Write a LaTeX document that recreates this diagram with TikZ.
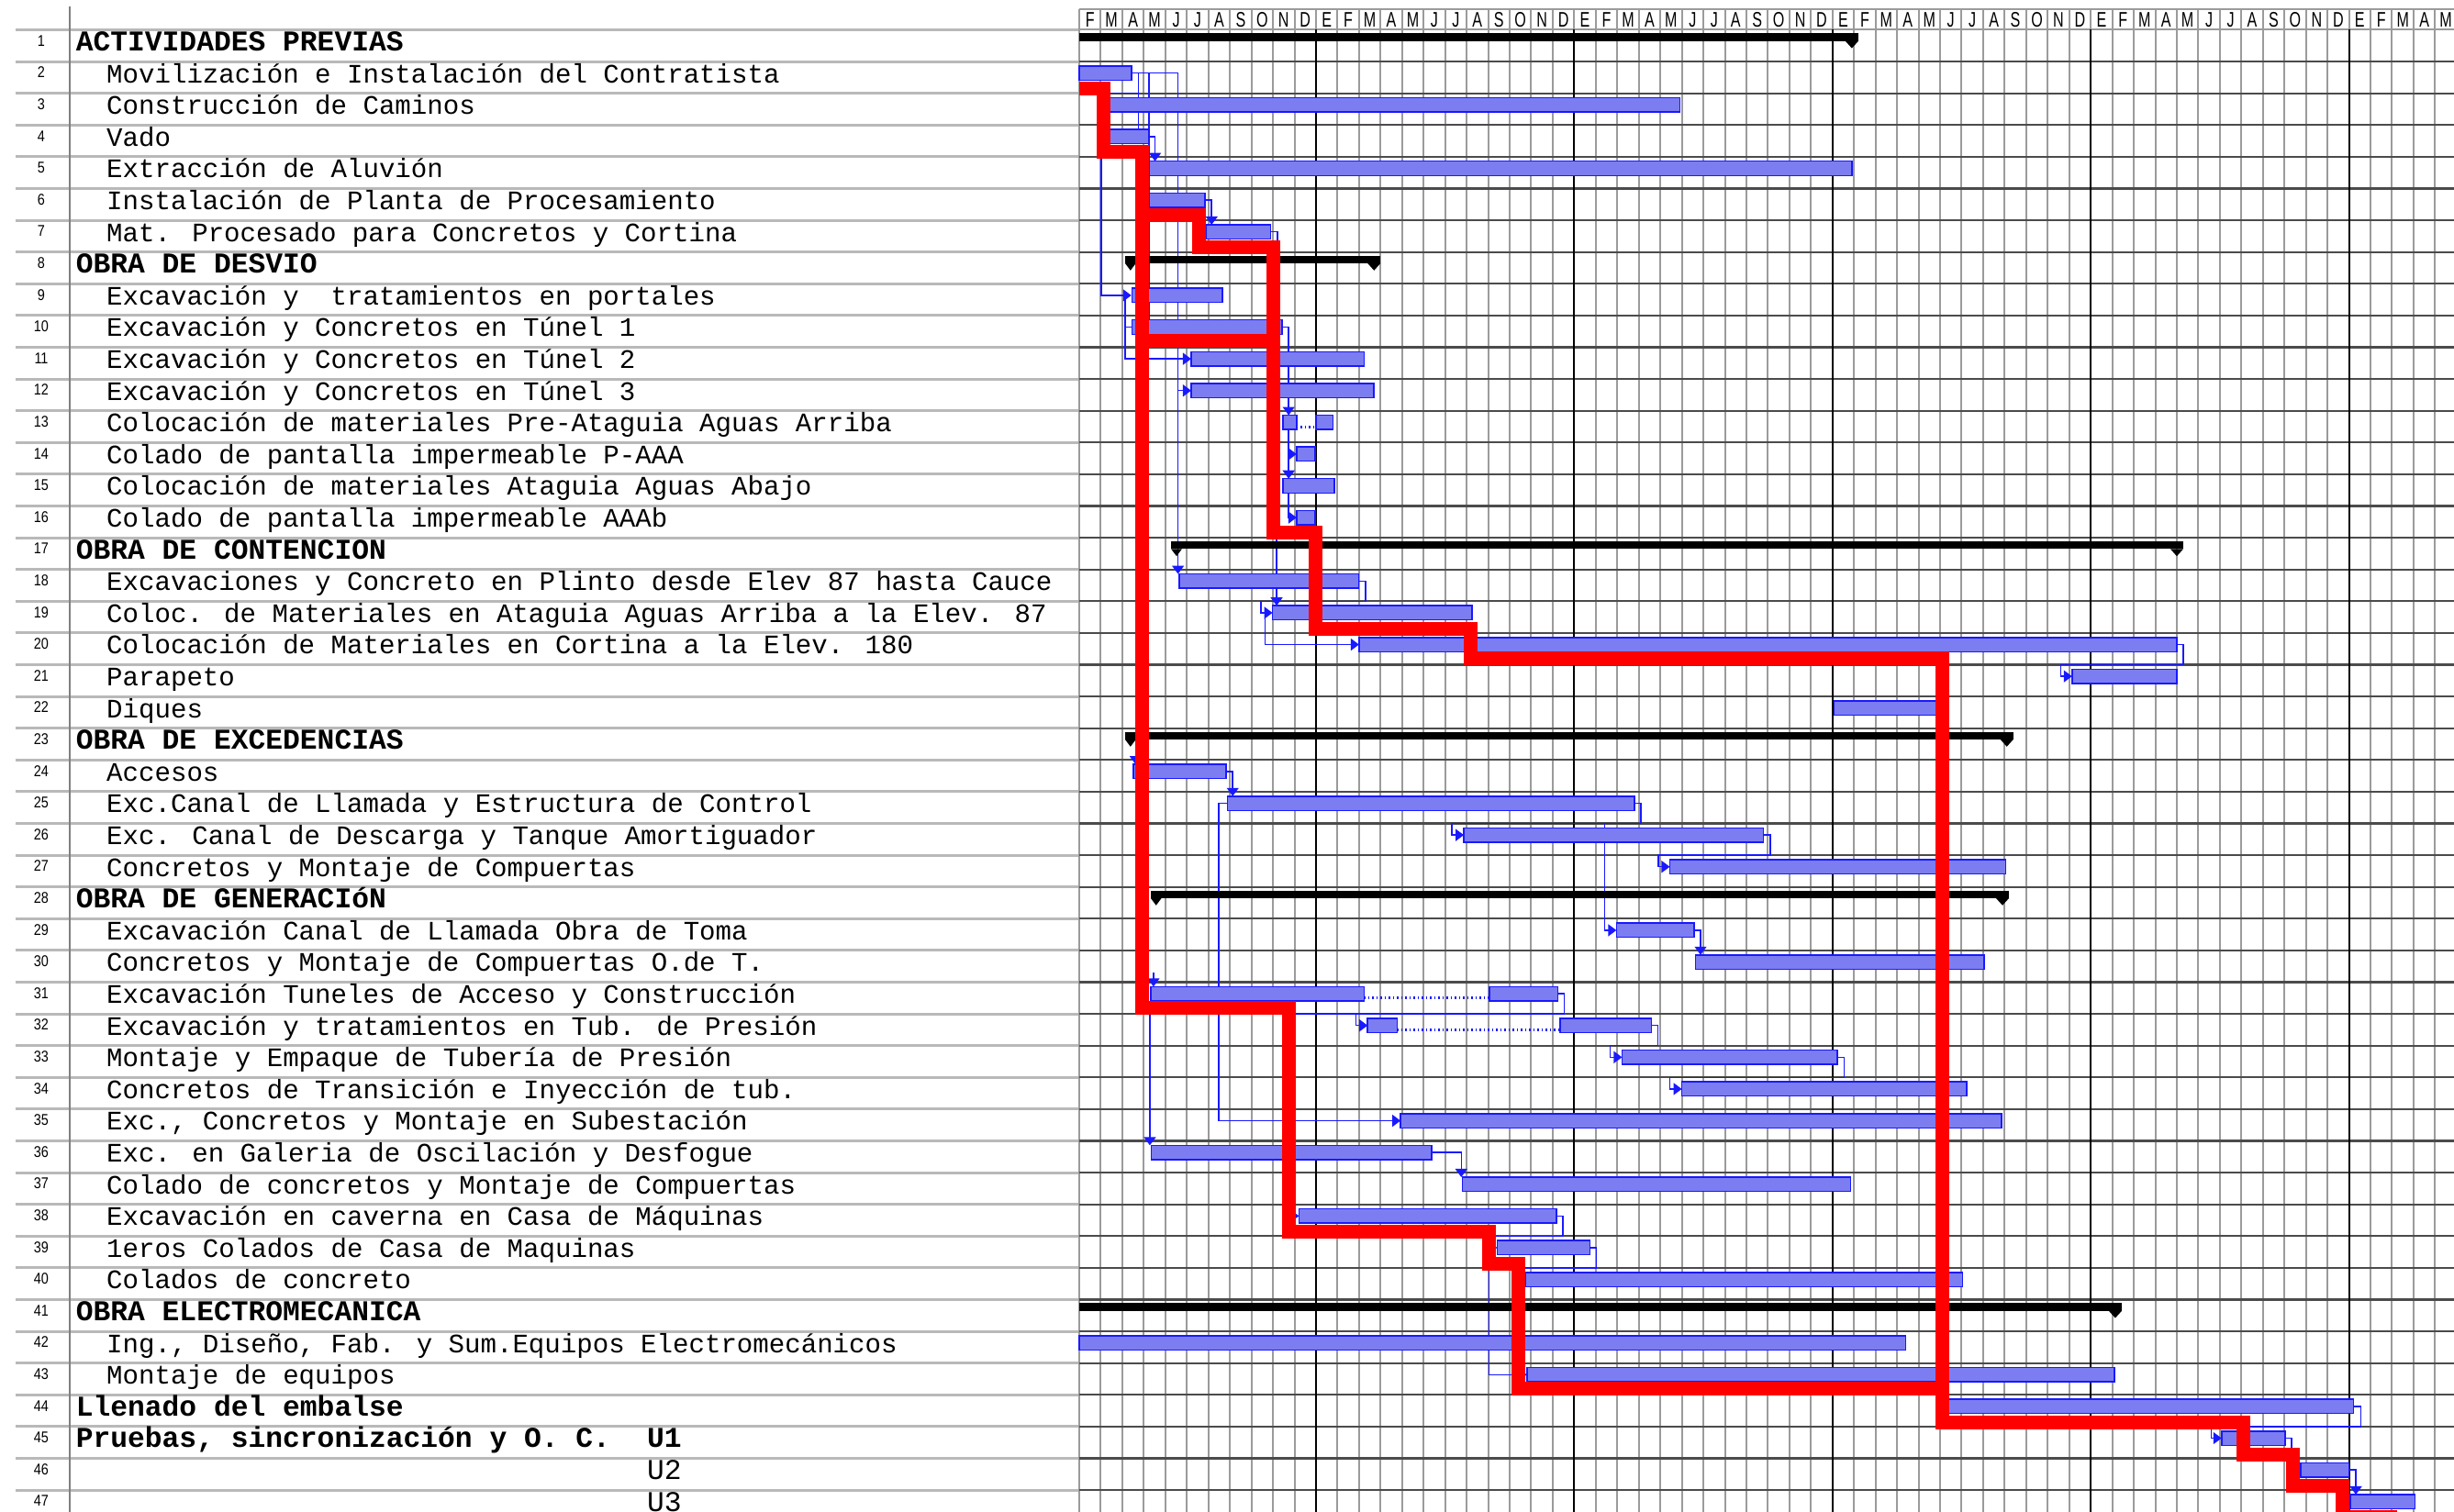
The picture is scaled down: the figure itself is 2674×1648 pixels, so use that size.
\documentclass[tikz,border=0pt]{standalone}
\usepackage{fontspec}
\usepackage{tikz}
\usetikzlibrary{arrows.meta}
\newfontfamily\monofam{Liberation Mono}
\newfontfamily\sansfam{Liberation Sans}
\definecolor{barfill}{RGB}{125,125,242}
\definecolor{linkblue}{RGB}{25,25,255}
\definecolor{rowgray}{RGB}{185,185,185}
\definecolor{gridgray}{RGB}{155,155,155}
\definecolor{griddark}{RGB}{75,75,75}
\tikzset{
  lbl/.style={anchor=base west, inner sep=0pt, xshift=33.4pt, font=\monofam\fontsize{29.1}{30}\selectfont},
  hdr/.style={anchor=base west, inner sep=0pt, font=\monofam\bfseries\fontsize{31.3}{32}\selectfont},
  hdrthin/.style={anchor=base west, inner sep=0pt, font=\monofam\fontsize{31.3}{32}\selectfont},
  num/.style={anchor=base, inner sep=0pt, font=\sansfam\fontsize{17}{18}\selectfont},
  mon/.style={anchor=base, inner sep=0pt, font=\sansfam\fontsize{23}{24}\selectfont},
  rowline/.style={draw=rowgray, line width=3pt},
  gridv/.style={draw=gridgray, line width=2pt},
  gridyr/.style={draw=black, line width=2pt},
  gridh/.style={draw=griddark, line width=2.2pt},
  taskbar/.style={fill=barfill, draw=linkblue, line width=1.5pt},
  link/.style={draw=linkblue, line width=1.5pt},
  linkarr/.style={link, -{Triangle[length=9pt,width=13pt]}},
  split/.style={draw=linkblue, line width=3pt, dash pattern=on 1.5pt off 3pt},
  crit/.style={draw=red, line width=15pt, line join=miter},
}

\begin{document}
\begin{tikzpicture}[x=1pt,y=-1pt]
\useasboundingbox (0,0) rectangle (2674,1648);
\fill[white] (0,0) rectangle (2674,1648);
\clip (0,0) rectangle (2674,1648);

% task list column
\foreach \k in {0,...,47}
  \draw[rowline] (17,{32.5+\k*34.6}) -- (1176,{32.5+\k*34.6});
\draw[draw=gray, line width=1.5pt] (76,7) -- (76,1648);
\foreach \k in {1,...,47}
  \node[num] (n\k) at (45,{50.3+(\k-1)*34.6}) {\scalebox{0.85}[1]{\k}};
% group headers
\foreach \k/\txt in {1/ACTIVIDADES PREVIAS, 8/OBRA DE DESVIO, 17/OBRA DE CONTENCION,
    23/OBRA DE EXCEDENCIAS, 28/OBRA DE GENERACIóN, 41/OBRA ELECTROMECANICA,
    44/Llenado del embalse, 45/{Pruebas, sincronización y O. C.}}
  \node[hdr] (t\k) at (82.6,{55.5+(\k-1)*34.6}) {\txt};
% tasks
\foreach \k/\txt in {2/Movilización e Instalación del Contratista,
    3/Construcción de Caminos,
    4/Vado,
    5/Extracción de Aluvión,
    6/Instalación de Planta de Procesamiento,
    7/Mat. Procesado para Concretos y Cortina,
    9/Excavación y~ tratamientos en portales,
    10/Excavación y Concretos en Túnel 1,
    11/Excavación y Concretos en Túnel 2,
    12/Excavación y Concretos en Túnel 3,
    13/Colocación de materiales Pre-Ataguia Aguas Arriba,
    14/Colado de pantalla impermeable P-AAA,
    15/Colocación de materiales Ataguia Aguas Abajo,
    16/Colado de pantalla impermeable AAAb,
    18/Excavaciones y Concreto en Plinto desde Elev 87 hasta Cauce,
    19/Coloc. de Materiales en Ataguia Aguas Arriba a la Elev. 87,
    20/Colocación de Materiales en Cortina a la Elev. 180,
    21/Parapeto,
    22/Diques,
    24/Accesos,
    25/Exc.Canal de Llamada y Estructura de Control,
    26/Exc. Canal de Descarga y Tanque Amortiguador,
    27/Concretos y Montaje de Compuertas,
    29/Excavación Canal de Llamada Obra de Toma,
    30/Concretos y Montaje de Compuertas O.de T.,
    31/Excavación Tuneles de Acceso y Construcción,
    32/Excavación y tratamientos en Tub. de Presión,
    33/Montaje y Empaque de Tubería de Presión,
    34/Concretos de Transición e Inyección de tub.,
    35/{Exc., Concretos y Montaje en Subestación},
    36/Exc. en Galeria de Oscilación y Desfogue,
    37/Colado de concretos y Montaje de Compuertas,
    38/Excavación en caverna en Casa de Máquinas,
    39/1eros Colados de Casa de Maquinas,
    40/Colados de concreto,
    42/{Ing., Diseño, Fab. y Sum.Equipos Electromecánicos},
    43/Montaje de equipos}
  \node[lbl] (t\k) at (82.6,{55.5+(\k-1)*34.6}) {\txt};
\node[hdr] (u1) at (705,{55.5+44*34.6}) {U1};
\node[hdrthin] (u2) at (705,{55.5+45*34.6}) {U2};
\node[hdrthin] (u3) at (705,{55.5+46*34.6}) {U3};

% time chart: x in months from F, y in rows
\begin{scope}[xshift=1176pt, yshift=-32.5pt, x=23.45pt, y=-34.6pt]
\draw[gridv] (0,-0.65) -- (64,-0.65);
\foreach \i in {0,...,64} \draw[gridv] (\i,-0.65) -- (\i,47.5);
\foreach \k in {1,...,47} \draw[gridh] (0,\k) -- (64,\k);
\draw[gridv] (0,0) -- (64,0);
\foreach \i in {11,23,35,47,59} \draw[gridyr] (\i,0) -- (\i,47.5);
\foreach \l [count=\i from 0] in {F,M,A,M,J,J,A,S,O,N,D,
    E,F,M,A,M,J,J,A,S,O,N,D, E,F,M,A,M,J,J,A,S,O,N,D,
    E,F,M,A,M,J,J,A,S,O,N,D, E,F,M,A,M,J,J,A,S,O,N,D, E,F,M,A,M}
  \node[mon] (m\i) at (\i+0.5,-0.1) {\scalebox{0.7}[1]{\l}};

% links
\draw[linkarr] (2.42,1.365) -- (4.59,1.365) -- (4.59,17.14);
\draw[linkarr] (4.59,11.365) -- (5.2,11.365);
\draw[linkarr] (2.76,1.365) -- (2.76,2) -- (1.03,2) -- (1.03,8.365) -- (2.42,8.365);
\draw[link] (2.76,2) -- (2.76,3.59);
\draw[link] (3.24,1.365) -- (3.24,9.14);
\draw[linkarr] (3.24,3.365) -- (3.52,3.365) -- (3.52,4.14);
\draw[linkarr] (5.84,5.365) -- (6.15,5.365) -- (6.15,6.14);
\draw[link] (8.88,6.365) -- (9.2,6.365) -- (9.2,7);
\draw[linkarr] (2.13,8.365) -- (2.13,10.365) -- (5.2,10.365);
\draw[link] (2.13,9.365) -- (2.45,9.365);
\draw[linkarr] (9.43,9.365) -- (9.73,9.365) -- (9.73,12.14);
\draw[linkarr] (9.73,12.59) -- (9.73,14.14);
\draw[linkarr] (9.73,13.365) -- (10.1,13.365);
\draw[linkarr] (9.73,14.59) -- (9.73,15.365) -- (10.1,15.365);
\draw[linkarr] (9.17,15.9) -- (9.17,18.14);
\draw[linkarr] (12.99,17.365) -- (13.3,17.365) -- (13.3,18) -- (8.44,18) -- (8.44,18.365) -- (8.98,18.365);
\draw[linkarr] (8.64,18.365) -- (8.64,19.365) -- (13.0,19.365);
\draw[linkarr] (51.0,19.365) -- (51.3,19.365) -- (51.3,20) -- (45.6,20) -- (45.6,20.365) -- (46.13,20.365);
\draw[linkarr] (2.62,22.7) -- (2.62,23.14);
\draw[linkarr] (6.83,23.365) -- (7.13,23.365) -- (7.13,24.14);
\draw[linkarr] (25.79,24.365) -- (26.09,24.365) -- (26.09,25) -- (17.32,25) -- (17.32,25.365) -- (17.87,25.365);
\draw[linkarr] (24.42,25) -- (24.42,28.365) -- (24.96,28.365);
\draw[linkarr] (6.89,24.365) -- (6.49,24.365) -- (6.49,34.365) -- (14.93,34.365);
\draw[linkarr] (31.8,25.365) -- (32.1,25.365) -- (32.1,26) -- (26.9,26) -- (26.9,26.365) -- (27.44,26.365);
\draw[linkarr] (28.57,28.365) -- (28.87,28.365) -- (28.87,29.14);
\draw[linkarr] (3.45,29.7) -- (3.45,30.14);
\draw[linkarr] (22.24,30.365) -- (22.54,30.365) -- (22.54,31) -- (3.28,31) -- (3.28,35.14);
\draw[linkarr] (12.85,31) -- (12.85,31.365) -- (13.4,31.365);
\draw[linkarr] (26.58,31.365) -- (26.88,31.365) -- (26.88,32) -- (24.66,32) -- (24.66,32.365) -- (25.22,32.365);
\draw[linkarr] (35.22,32.365) -- (35.55,32.365) -- (35.55,33) -- (27.44,33) -- (27.44,33.365) -- (28.0,33.365);
\draw[linkarr] (16.38,35.365) -- (17.75,35.365) -- (17.75,36.14);
\draw[linkarr] (9.74,37.365) -- (10.21,37.365);
\draw[linkarr] (22.18,37.365) -- (22.48,37.365) -- (22.48,38) -- (18.95,38) -- (18.95,38.365) -- (19.42,38.365);
\draw[linkarr] (23.73,38.365) -- (24.03,38.365) -- (24.03,39) -- (19.04,39) -- (19.04,42.365) -- (20.8,42.365);
\draw[linkarr] (20.3,39) -- (20.3,39.365) -- (20.75,39.365);
\draw[linkarr] (59.2,43.365) -- (59.56,43.365) -- (59.56,44) -- (52.6,44) -- (52.6,44.365) -- (53.08,44.365);
\draw[linkarr] (56.04,44.365) -- (56.33,44.365) -- (56.33,45.14);
\draw[linkarr] (59.0,45.365) -- (59.32,45.365) -- (59.32,46.14);

% split tasks
\draw[split] (10.1,12.5) -- (11.0,12.5);
\draw[split] (13.24,30.5) -- (19.06,30.5);
\draw[split] (14.77,31.5) -- (22.34,31.5);

% task bars: row/start/end
\foreach \rw/\ms/\me in {2/0/2.42, 3/1.43/27.9, 4/1.43/3.24, 5/3.24/35.9,
    6/3.24/5.84, 7/5.9/8.88, 9/2.45/6.65, 10/2.45/9.43, 11/5.2/13.24,
    12/5.2/13.68, 13/9.47/10.1, 13/11.0/11.8, 14/10.1/10.96, 15/9.47/11.85,
    16/10.1/10.96, 18/4.65/12.99, 19/8.98/18.25, 20/13.0/51.0, 21/46.13/51.0,
    22/35.07/40.0, 24/2.52/6.83, 25/6.89/25.79, 26/17.87/31.8, 27/27.44/43.04,
    29/24.96/28.57, 30/28.63/42.05, 31/3.32/13.24, 31/19.06/22.24,
    32/13.4/14.77, 32/22.34/26.58, 33/25.22/35.22, 34/28.0/41.23,
    35/14.93/42.85, 36/3.34/16.38, 37/17.81/35.85, 38/10.21/22.18,
    39/19.42/23.73, 40/20.75/41.05, 42/0/38.4, 43/20.8/48.1, 44/40.4/59.2,
    45/53.08/56.04, 46/56.75/59.0, 47/59.06/62.07}
  \draw[taskbar] (\ms,\rw-0.86) rectangle (\me,\rw-0.41);

% summary bars
\foreach \rw/\ms/\me/\lt in {1/0/36.2/0, 8/2.13/14.0/1, 17/4.27/51.3/1,
    23/2.13/43.4/1, 28/3.32/43.2/1, 41/0/48.44/0} {
  \fill (\ms,\rw-0.885) rectangle (\me,\rw-0.645);
  \fill (\me-0.6,\rw-0.645) -- (\me,\rw-0.645) -- (\me-0.3,\rw-0.42) -- cycle;
  \ifnum\lt=1 \fill (\ms,\rw-0.645) -- (\ms+0.5,\rw-0.645) -- (\ms+0.25,\rw-0.42) -- cycle; \fi
}

% critical path
\draw[crit] (0,1.85) -- (1.13,1.85) -- (1.13,3.85) -- (2.9,3.85) -- (2.9,30.82)
  -- (9.74,30.82) -- (9.74,37.85) -- (19.05,37.85) -- (19.05,38.88) -- (20.42,38.88)
  -- (20.42,42.8) -- (40.1,42.8);
\draw[crit] (2.9,5.85) -- (5.55,5.85) -- (5.55,6.84) -- (9.03,6.84) -- (9.03,15.85)
  -- (10.99,15.85) -- (10.99,18.86) -- (18.17,18.86) -- (18.17,19.81) -- (40.1,19.81)
  -- (40.1,43.86) -- (54.08,43.86) -- (54.08,44.87) -- (56.38,44.87) -- (56.38,45.88)
  -- (58.68,45.88) -- (58.68,46.86) -- (61.22,46.86);
\draw[crit] (2.9,9.81) -- (9.03,9.81);
\end{scope}
\end{tikzpicture}
\end{document}
